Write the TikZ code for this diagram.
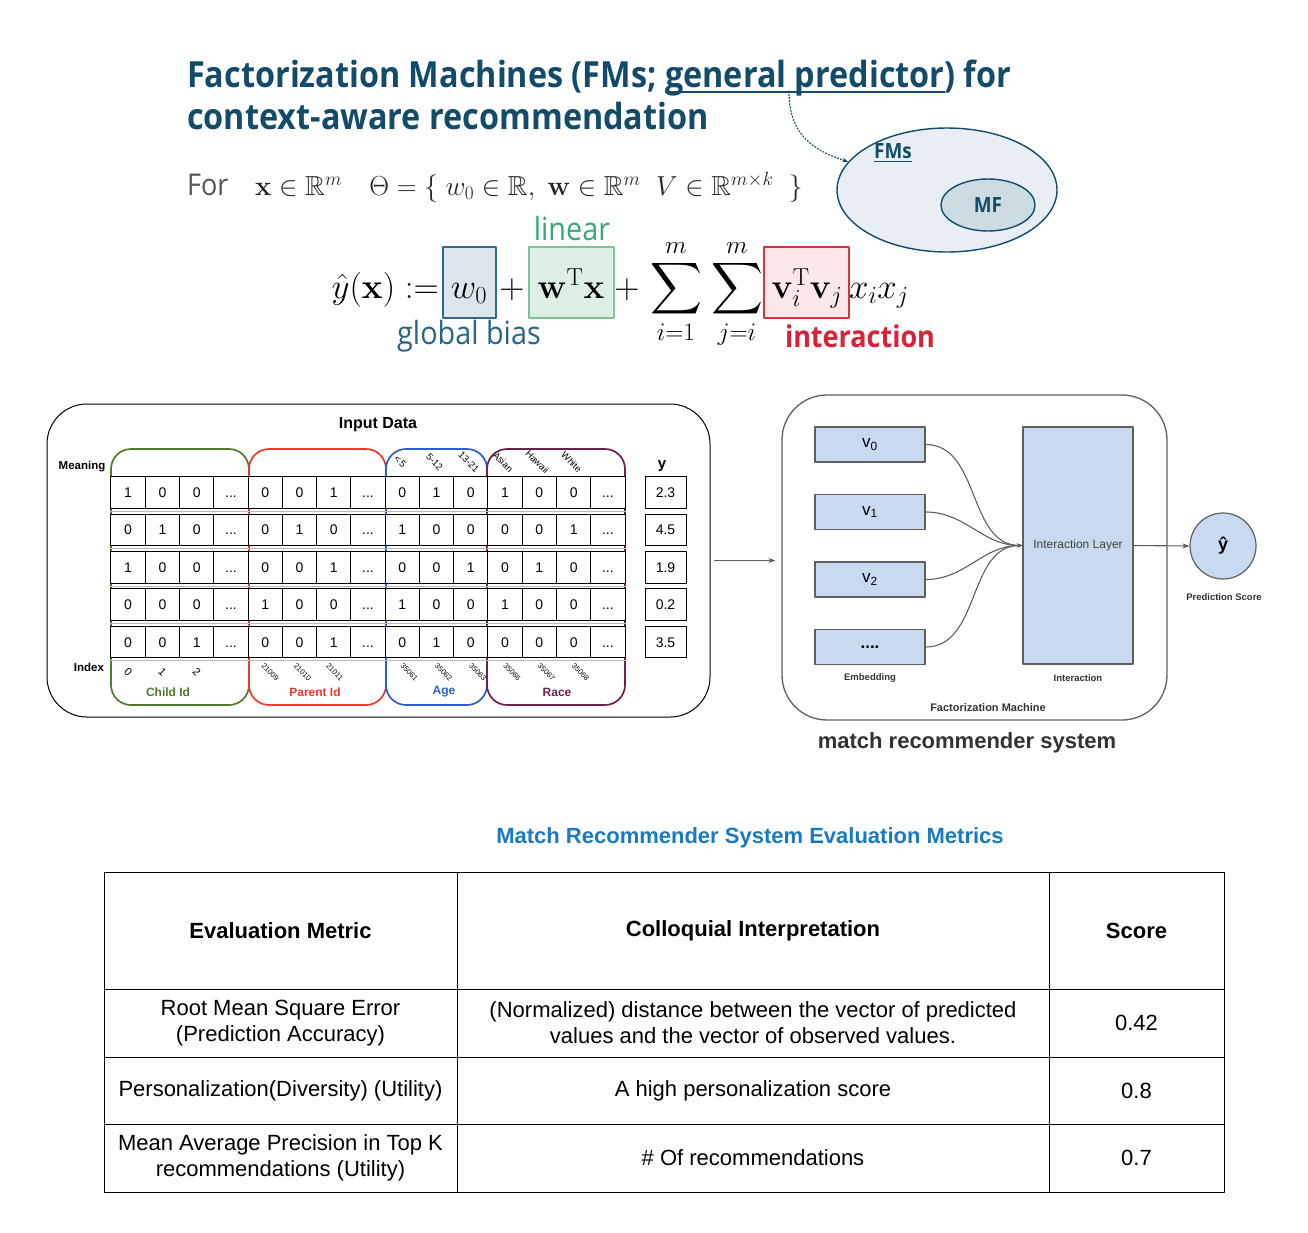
\RequirePackage{fix-cm}
\documentclass[tikz,border=0pt]{standalone}
\usepackage{amsmath,amssymb}
\usepackage[no-math]{fontspec}
\setmainfont{Liberation Sans}
\newfontfamily\osans[FakeStretch=0.9]{Open Sans}
\usetikzlibrary{arrows.meta,calc,positioning,shapes.geometric}
\definecolor{fmteal}{RGB}{18,76,106}
\definecolor{fmgray}{RGB}{85,85,85}
\definecolor{fmbiasfill}{RGB}{220,230,236}
\definecolor{fmbiasline}{RGB}{46,106,138}
\definecolor{fmbiastext}{RGB}{40,100,135}
\definecolor{fmlinfill}{RGB}{221,239,227}
\definecolor{fmlinline}{RGB}{124,197,154}
\definecolor{fmlintext}{RGB}{58,168,112}
\definecolor{fmintfill}{RGB}{251,233,234}
\definecolor{fmintline}{RGB}{224,48,61}
\definecolor{fminttext}{RGB}{215,35,55}
\definecolor{fmouter}{RGB}{232,238,243}
\definecolor{fminner}{RGB}{205,219,227}
\definecolor{grpgreen}{RGB}{78,122,46}
\definecolor{grpred}{RGB}{234,58,45}
\definecolor{grpblue}{RGB}{44,95,207}
\definecolor{grppurple}{RGB}{110,33,80}
\definecolor{embfill}{RGB}{201,218,240}
\definecolor{embline}{RGB}{95,95,95}
\definecolor{tabtitle}{RGB}{26,122,191}
\tikzset{
  every picture/.append style={line cap=round,line join=round},
  fm cell/.style={draw,fill=white,line width=1pt,minimum width=34.27,minimum height=31.5,inner sep=0pt,
    text height=10pt,text depth=0pt,font=\fontsize{14}{16}\selectfont},
  fm ycell/.style={fm cell,minimum width=41},
  fm group/.style={draw=#1,line width=1.7pt,rounded corners=20pt,minimum height=256,inner sep=0pt},
  fm grouplabel/.style={text=#1,font=\bfseries\fontsize{12}{14}\selectfont},
  fm meaning/.style={rotate=-45,inner sep=0pt,font=\fontsize{9.5}{11}\selectfont},
  fm index/.style={rotate=-45,inner sep=0pt,font=\fontsize{7.5}{9}\selectfont},
  fm panel/.style={draw,rounded corners=40pt,line width=1pt,inner sep=0pt},
  fm emb/.style={draw=embline,fill=embfill,line width=1.2pt,minimum width=110,minimum height=35,inner sep=0pt,font=\fontsize{17}{19}\selectfont},
  fm note/.style={text=black!80,font=\bfseries\fontsize{9.5}{11}\selectfont},
  fm wire/.style={embline,line width=1.1pt},
  fm box/.style={draw=#1,line width=1.3pt,inner sep=0pt,minimum height=71},
  fm math/.style={anchor=base,inner sep=0pt,font=\fontsize{35}{40}\selectfont},
  fm sum/.style={anchor=base,inner sep=0pt,font=\fontsize{36}{40}\selectfont},
  fm label/.style={inner sep=0pt,font=\osans\fontsize{32}{36}\selectfont},
  fm tab/.style={draw,line width=1pt,inner sep=0pt,align=center,font=\fontsize{22}{26}\selectfont},
  fm head/.style={fm tab,minimum height=117,font=\bfseries\fontsize{22}{26}\selectfont},
}
\newcommand{\fmval}[1]{\if d#1{.}{.}{.}\else#1\fi}

\begin{document}
\begin{tikzpicture}[x=1pt,y=-1pt,>={Stealth[length=7pt]}]
  \useasboundingbox (0,0) rectangle (1308,1232);
  % title and parameters
  \node[anchor=base west,inner sep=0pt,text=fmteal,font=\osans\bfseries\fontsize{36}{40}\selectfont] (title1) at (187,87)
    {Factorization Machines (FMs; \underline{\smash{general predictor}}) for};
  \node[anchor=base west,inner sep=0pt,text=fmteal,font=\osans\bfseries\fontsize{36}{40}\selectfont] (title2) at (187,129)
    {context-aware recommendation};
  \node[anchor=base west,inner sep=0pt,text=fmgray,font=\osans\fontsize{30}{34}\selectfont] (for) at (187,195) {For};
  \node[anchor=base west,inner sep=0pt,text=black!85,font=\fontsize{27.5}{31}\selectfont] (theta) at (255,195)
    {$\mathbf{x}\in\mathbb{R}^m\quad\Theta=\{\;w_0\in\mathbb{R},\;\mathbf{w}\in\mathbb{R}^m\;\;V\in\mathbb{R}^{m\times k}\;\;\}$};
  % FMs and MF
  \node[ellipse,draw=fmteal,fill=fmouter,line width=1.4pt,minimum width=220,minimum height=124] (fms) at (947,190) {};
  \node[ellipse,draw=fmteal,fill=fminner,line width=1.4pt,minimum width=94,minimum height=52,
    text=fmteal,font=\osans\bfseries\fontsize{21}{24}\selectfont] (mf) at (988,205) {MF};
  \node[text=fmteal,font=\osans\bfseries\fontsize{21}{24}\selectfont] (fmslab) at (893,153) {\underline{FMs}};
  \coordinate (gp) at (789,91);
  \draw[fmteal,dotted,line width=1.2pt,-{Stealth[length=6pt]}] (gp) .. controls (789,128) and (805,148) .. (fms.164);
  % model equation
  \node[fm box=fmbiasline,fill=fmbiasfill,minimum width=53] (bias) at (469.5,282.5) {};
  \node[fm box=fmlinline,fill=fmlinfill,minimum width=85] (lin) at (571.5,282.5) {};
  \node[fm box=fmintline,fill=fmintfill,minimum width=85] (pair) at (806.5,282.5) {};
  \node[fm math,anchor=base east] (yhat) at (439,298) {$\hat{y}(\mathbf{x})\mathrel{:=}$};
  \node[fm math] (w0) at (469,298) {$w_0$};
  \node[fm math] (plus1) at (512,298) {$+$};
  \node[fm math] (wx) at (571,298) {$\mathbf{w}^{\mathrm{T}}\mathbf{x}$};
  \node[fm math] (plus2) at (627,298) {$+$};
  \node[fm sum] (sum1) at (676,298) {$\displaystyle\sum_{i=1}^{m}$};
  \node[fm sum] (sum2) at (737,298) {$\displaystyle\sum_{j=i}^{m}$};
  \node[fm math] (vv) at (807,298) {$\mathbf{v}_i^{\mathrm{T}}\mathbf{v}_j$};
  \node[fm math,anchor=base west] (xx) at (849,298) {$x_i x_j$};
  \node[fm label,text=fmlintext] (linlab) at (572,228) {linear};
  \node[fm label,text=fmbiastext] (biaslab) at (469,336) {global bias};
  \node[fm label,text=fminttext,font=\osans\bfseries\fontsize{30}{34}\selectfont] (pairlab) at (860,336) {interaction};
  % input data
  \node[fm panel,minimum width=663,minimum height=313] (inp) at (378.5,560.5) {};
  \node[font=\bfseries\fontsize{16}{18}\selectfont] (inptitle) at (378,425) {Input Data};
  \node[font=\bfseries\fontsize{11.5}{13}\selectfont] (meaning) at (82,467) {Meaning};
  \node[font=\bfseries\fontsize{11.5}{13}\selectfont] (index) at (89,667) {Index};
  \node[font=\bfseries\fontsize{15}{17}\selectfont] (ylab) at (662,466) {y};
  \node[fm group=grpgreen,minimum width=138] (child) at (180,577) {};
  \node[fm group=grpred,minimum width=137] (parent) at (317.5,577) {};
  \node[fm group=grpblue,minimum width=101] (age) at (436.5,577) {};
  \node[fm group=grppurple,minimum width=138] (race) at (556,577) {};
  \foreach \vals [count=\r from 0] in {
      {1,0,0,d,0,0,1,d,0,1,0,1,0,0,d},
      {0,1,0,d,0,1,0,d,1,0,0,0,0,1,d},
      {1,0,0,d,0,0,1,d,0,0,1,0,1,0,d},
      {0,0,0,d,1,0,0,d,1,0,0,1,0,0,d},
      {0,0,1,d,0,0,1,d,0,1,0,0,0,0,d}}{
    \pgfmathsetmacro\cy{492.5+37.4*\r}
    \foreach \v [count=\c from 0] in \vals {
      \pgfmathsetmacro\cx{128.13+34.27*\c}
      \node[fm cell] (cell-\r-\c) at (\cx,\cy) {\fmval{\v}};
    }
    \draw[gray!55,line width=1pt] ([yshift=-2.5pt]cell-\r-0.south west) -- ([yshift=-2.5pt]cell-\r-14.south east);
  }
  \foreach \yv [count=\r from 0] in {2.3,4.5,1.9,0.2,3.5}{
    \pgfmathsetmacro\cy{492.5+37.4*\r}
    \node[fm ycell] (y-\r) at (665.5,\cy) {\yv};
  }
  \foreach \c/\lab in {8/{<\,5},9/{5-12},10/{13-21},11/Asian,12/Hawaii,13/White}{
    \pgfmathsetmacro\cx{126.13+34.27*\c}
    \node[fm meaning] (mean-\c) at (\cx,462) {\lab};
  }
  \foreach \c/\lab/\dx in {0/0/0,1/1/0,2/2/0}{
    \pgfmathsetmacro\cx{128.13+34.27*\c+\dx}
    \node[fm index,font=\fontsize{11}{12}\selectfont] (idx-\c) at (\cx,672) {\lab};
  }
  \foreach \c/\lab/\dx in {4/21009/5,5/21010/3,6/21011/1,8/35061/7,9/35062/7,10/35063/7,11/35066/7,12/35067/7,13/35068/7}{
    \pgfmathsetmacro\cx{128.13+34.27*\c+\dx}
    \node[fm index] (idx-\c) at (\cx,672) {\lab};
  }
  \node[fm grouplabel=grpgreen] (childlab) at (168,692) {Child Id};
  \node[fm grouplabel=grpred] (parentlab) at (315,692) {Parent Id};
  \node[fm grouplabel=grpblue] (agelab) at (444,692) {Age};
  \node[fm grouplabel=grppurple] (racelab) at (557,692) {Race};
  % factorization machine
  \node[fm panel,draw=embline,rounded corners=45pt,line width=1.3pt,minimum width=385,minimum height=325] (fmp) at (974.5,557.5) {};
  \draw[->,embline,line width=1pt] ([xshift=4pt]inp.east) -- ([xshift=-6pt]inp.east -| fmp.west);
  \node[fm emb] (v0) at (870,444.5) {v\textsubscript{0}};
  \node[fm emb] (v1) at (870,512) {v\textsubscript{1}};
  \node[fm emb] (v2) at (870,579.5) {v\textsubscript{2}};
  \node[fm emb] (vd) at (870,647) {\textbf{....}};
  \node[fm emb,minimum height=237,font=\fontsize{12}{14}\selectfont,text=black!75] (ilayer) at (1078,545.5) {Interaction Layer};
  \foreach \e in {v0,v1,v2,vd}
    \draw[fm wire,-{Stealth[length=5pt]}] (\e.east) to[out=0,in=180] (ilayer.west);
  \node[circle,draw=embline,fill=embfill,line width=1.2pt,minimum size=66,inner sep=0pt,
    font=\bfseries\fontsize{18}{20}\selectfont] (score) at (1223,546) {ŷ};
  \draw[fm wire,->] (ilayer.east) -- (score.west);
  \node[fm note] (scorelab) at (1224,597) {Prediction Score};
  \node[fm note] (emblab) at (870,678) {Embedding};
  \node[fm note] (intlab) at (1078,678) {Interaction};
  \node[fm note,font=\bfseries\fontsize{11}{13}\selectfont] (fmlab) at (988,708) {Factorization Machine};
  \node[text=black!80,font=\bfseries\fontsize{22}{26}\selectfont] (sys) at (967,743) {match recommender system};
  % evaluation table
  \node[text=tabtitle,font=\bfseries\fontsize{22}{26}\selectfont] (tabtitle) at (750,838) {Match Recommender System Evaluation Metrics};
  \node[fm head,minimum width=353] (h1) at (280.5,930.5) {Evaluation Metric};
  \node[fm head,minimum width=592] (h2) at (753,930.5) {Colloquial Interpretation};
  \node[fm head,minimum width=175] (h3) at (1136.5,930.5) {Score};
  \node[fm tab,minimum width=353,minimum height=68] (a1) at (280.5,1023) {Root Mean Square Error\\(Prediction Accuracy)};
  \node[fm tab,minimum width=592,minimum height=68] (a2) at (753,1023) {(Normalized) distance between the vector of predicted\\values and the vector of observed values.};
  \node[fm tab,minimum width=175,minimum height=68] (a3) at (1136.5,1023) {0.42};
  \node[fm tab,minimum width=353,minimum height=67] (b1) at (280.5,1090.5) {Personalization(Diversity) (Utility)};
  \node[fm tab,minimum width=592,minimum height=67] (b2) at (753,1090.5) {A high personalization score};
  \node[fm tab,minimum width=175,minimum height=67] (b3) at (1136.5,1090.5) {0.8};
  \node[fm tab,minimum width=353,minimum height=68] (c1) at (280.5,1158) {Mean Average Precision in Top K\\recommendations (Utility)};
  \node[fm tab,minimum width=592,minimum height=68] (c2) at (753,1158) {\# Of recommendations};
  \node[fm tab,minimum width=175,minimum height=68] (c3) at (1136.5,1158) {0.7};
\end{tikzpicture}
\end{document}
